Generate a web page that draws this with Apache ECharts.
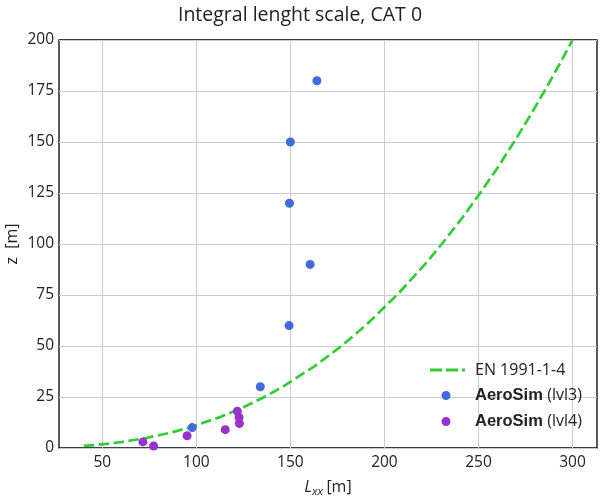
<!DOCTYPE html>
<html>
<head>
<meta charset="utf-8">
<script src="https://cdn.jsdelivr.net/npm/echarts@6/dist/echarts.min.js"></script>
<style>html,body{margin:0;padding:0;background:#fff}#c{width:600px;height:500px}</style>
</head>
<body>
<div id="c"></div>
<script>
// EN 1991-1-4 curve: z [m] and L [m]
const enZ = [1, 1.5, 2, 3, 5, 7.5, 10, 15, 20, 25, 30, 40, 50, 60, 75, 90, 100, 112.5, 125, 137.5, 150, 162.5, 175, 187.5, 200];
const enL = [40.1, 46.7, 52.1, 60.8, 73.9, 86.2, 96.1, 112.1, 125.1, 136.1, 145.9, 162.7, 177.2, 189.9, 206.7, 221.5, 230.5, 241.1, 250.9, 260.2, 268.9, 277.2, 285.1, 292.7, 300];
// AeroSim lvl3
const lvl3L = [97.8, 134, 149.3, 160.5, 149.5, 150, 164.1];
const lvl3Z = [10, 30, 60, 90, 120, 150, 180];
// AeroSim lvl4
const lvl4L = [77.3, 71.6, 95.1, 115.4, 122.9, 122.7, 121.8];
const lvl4Z = [1, 3, 6, 9, 12, 15, 18];
const xTicks = [50, 100, 150, 200, 250, 300];

const zip = (a, b) => a.map((v, i) => [v, b[i]]);
const chart = echarts.init(document.getElementById('c'));
const tickFont = {fontFamily: 'Open Sans', fontSize: 15.5, color: '#222'};
// legend icons: 40x10 boxes (invisible corner points fix the box)
const box = 'M0,0 L0.01,0 L0,0.01 Z M40,10 L39.99,10 L40,9.99 Z ';
const dashIcon = 'path://' + box + 'M0,3.6 h12 v2.8 h-12 Z M16,3.6 h12 v2.8 h-12 Z M32,3.6 h3 v2.8 h-3 Z';
const dotIcon = 'path://' + box + 'M11.5,5 A4.5,4.5 0 1,0 20.5,5 A4.5,4.5 0 1,0 11.5,5 Z';
chart.setOption({
  animation: false,
  title: {
    text: 'Integral lenght scale, CAT 0',
    left: 'center', top: 0,
    textStyle: {fontFamily: 'Open Sans', fontSize: 19.5, fontWeight: 'normal', color: '#222'}
  },
  grid: {left: 59, right: 3, top: 40, bottom: 52, outerBoundsMode: 'none', containLabel: false,
    show: true, borderColor: '#000', borderWidth: 1.3, backgroundColor: 'transparent'},
  legend: {
    orient: 'vertical', left: 425, top: 357, itemGap: 9,
    itemWidth: 40, itemHeight: 10,
    data: [
      {name: 'EN 1991-1-4', icon: dashIcon},
      {name: 'AeroSim (lvl3)', icon: dotIcon},
      {name: 'AeroSim (lvl4)', icon: dotIcon}
    ],
    formatter: function (n) {
      if (n.indexOf('AeroSim') === 0) return '{b|AeroSim} {n|' + n.slice(8) + '}';
      return '{n|' + n + '}';
    },
    textStyle: {
      fontSize: 16, color: '#222',
      rich: {
        b: {fontFamily: 'Liberation Sans', fontWeight: 'bold', fontSize: 16.5, color: '#222'},
        n: {fontFamily: 'Open Sans', fontSize: 16, color: '#222'}
      }
    }
  },
  xAxis: {
    type: 'value', min: 27, max: 313,
    name: '{i|L}{s|xx} {n|[m]}', nameLocation: 'middle', nameGap: 29,
    nameTextStyle: {
      rich: {
        i: {fontFamily: 'Open Sans', fontStyle: 'italic', fontSize: 16, color: '#222'},
        s: {fontFamily: 'Open Sans', fontStyle: 'italic', fontSize: 11.5, color: '#222', padding: [9, 0, 0, 0]},
        n: {fontFamily: 'Open Sans', fontSize: 16, color: '#222'}
      }
    },
    axisLine: {show: false},
    axisTick: {show: false, customValues: xTicks},
    axisLabel: Object.assign({margin: 7, customValues: xTicks}, tickFont),
    splitLine: {show: true, lineStyle: {color: '#cccccc', width: 1}}
  },
  yAxis: {
    type: 'value', min: 0, max: 200, interval: 25,
    name: 'z  [m]', nameLocation: 'middle', nameGap: 39, nameRotate: 90, nameMoveOverlap: false,
    nameTextStyle: {fontFamily: 'Open Sans', fontSize: 16, color: '#222'},
    axisLine: {show: false}, axisTick: {show: false},
    axisLabel: Object.assign({margin: 5}, tickFont),
    splitLine: {show: true, lineStyle: {color: '#cccccc', width: 1}}
  },
  series: [
    {
      name: 'EN 1991-1-4', type: 'line', data: zip(enL, enZ), showSymbol: false, symbol: 'none',
      lineStyle: {color: '#32cd32', width: 2.7, type: [10.5, 4.5]}, itemStyle: {color: '#32cd32'}, z: 3
    },
    {
      name: 'AeroSim (lvl3)', type: 'scatter', data: zip(lvl3L, lvl3Z), symbolSize: 9,
      itemStyle: {color: '#4169e1', opacity: 1}, z: 4
    },
    {
      name: 'AeroSim (lvl4)', type: 'scatter', data: zip(lvl4L, lvl4Z), symbolSize: 9,
      itemStyle: {color: '#9932cc', opacity: 1}, z: 4
    }
  ]
});
</script>
</body>
</html>
